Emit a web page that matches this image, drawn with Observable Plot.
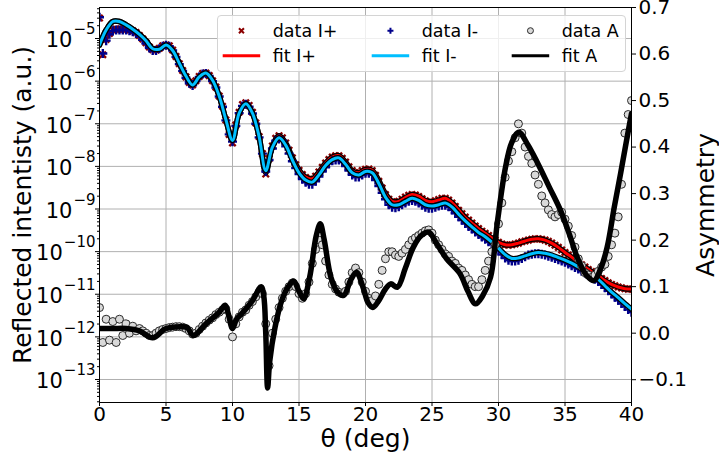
<!DOCTYPE html>
<html><head><meta charset="utf-8">
<script src="https://cdn.jsdelivr.net/npm/d3@7"></script>
<script src="https://cdn.jsdelivr.net/npm/@observablehq/plot@0.6"></script>
<style>
body{margin:0;background:#fff;}
#wrap{position:relative;width:719px;height:461px;font-family:"DejaVu Sans",sans-serif;}
#wrap > svg{position:absolute;left:0;top:0;}
#legend{position:absolute;left:217px;top:15px;width:409px;height:57px;background:rgba(255,255,255,0.8);border:1px solid #d4d4d4;border-radius:4px;box-sizing:border-box;}
#legend svg{position:absolute;left:-1px;top:-1px;}
</style></head><body><div id="wrap"></div>
<script>
// ---------- data ----------
// sample grid of the measured points (deg), step 0.25
const thetaData = d3.range(161).map(i => i / 4);
// sample grid of the fits (deg), step 0.5
const thetaFit = d3.range(81).map(i => i / 2);

// measured I+ (log10 of reflected intensity)
const dataIplusLog = [
 -4.52,-5.38,-5.02,-4.88, -4.80,-4.78,-4.78,-4.78, -4.78,-4.80,-4.82,-4.86, -4.93,-5.01,-5.10,-5.20,
 -5.26,-5.27,-5.23,-5.17, -5.15,-5.17,-5.27,-5.42, -5.59,-5.75,-5.90,-6.03, -6.09,-5.99,-5.89,-5.82,
 -5.81,-5.87,-5.99,-6.14, -6.35,-6.59,-6.91,-7.25, -7.45,-7.03,-6.73,-6.55, -6.51,-6.57,-6.73,-6.98,
 -7.30,-7.70,-8.18,-7.82, -7.52,-7.34,-7.28,-7.33, -7.45,-7.62,-7.80,-7.96, -8.09,-8.19,-8.26,-8.30,
 -8.30,-8.23,-8.13,-8.02, -7.92,-7.84,-7.78,-7.75, -7.75,-7.81,-7.90,-8.01, -8.10,-8.15,-8.15,-8.10,
 -8.07,-8.06,-8.10,-8.21, -8.35,-8.51,-8.66,-8.77, -8.83,-8.84,-8.82,-8.77, -8.72,-8.68,-8.66,-8.67,
 -8.71,-8.76,-8.81,-8.84, -8.84,-8.81,-8.78,-8.75, -8.75,-8.79,-8.86,-8.94, -9.03,-9.11,-9.19,-9.26,
 -9.33,-9.40,-9.46,-9.52, -9.57,-9.62,-9.68,-9.73, -9.78,-9.82,-9.84,-9.85, -9.84,-9.82,-9.80,-9.77,
 -9.75,-9.73,-9.71,-9.70, -9.70,-9.71,-9.73,-9.76, -9.80,-9.85,-9.90,-9.96, -10.02,-10.08,-10.13,-10.19,
 -10.25,-10.31,-10.36,-10.42, -10.47,-10.52,-10.57,-10.63, -10.68,-10.73,-10.77,-10.80, -10.83,-10.85,-10.87,-10.88,
 -10.88];

// measured I- (log10)
const dataIminusLog = [
 -4.50,-5.35,-5.05,-4.90, -4.82,-4.80,-4.80,-4.80, -4.80,-4.82,-4.84,-4.88, -4.95,-5.03,-5.12,-5.22,
 -5.28,-5.28,-5.24,-5.18, -5.16,-5.18,-5.28,-5.43, -5.60,-5.76,-5.92,-6.05, -6.10,-6.00,-5.90,-5.83,
 -5.82,-5.88,-6.00,-6.15, -6.36,-6.60,-6.92,-7.25, -7.42,-7.05,-6.75,-6.58, -6.54,-6.60,-6.76,-7.00,
 -7.32,-7.70,-8.12,-7.85, -7.58,-7.40,-7.36,-7.40, -7.53,-7.70,-7.88,-8.04, -8.18,-8.30,-8.37,-8.42,
 -8.42,-8.35,-8.24,-8.12, -8.02,-7.93,-7.87,-7.85, -7.85,-7.90,-7.99,-8.10, -8.20,-8.25,-8.25,-8.20,
 -8.16,-8.16,-8.20,-8.32, -8.46,-8.62,-8.77,-8.90, -8.96,-8.97,-8.95,-8.90, -8.86,-8.82,-8.80,-8.82,
 -8.86,-8.91,-8.96,-8.98, -8.98,-8.96,-8.93,-8.91, -8.91,-8.95,-9.02,-9.10, -9.18,-9.26,-9.34,-9.41,
 -9.47,-9.54,-9.60,-9.66, -9.71,-9.77,-9.83,-9.89, -9.97,-10.07,-10.15,-10.20, -10.22,-10.22,-10.20,-10.16,
 -10.12,-10.08,-10.06,-10.05, -10.05,-10.06,-10.08,-10.11, -10.13,-10.16,-10.19,-10.22, -10.25,-10.29,-10.33,-10.37,
 -10.41,-10.46,-10.50,-10.55, -10.60,-10.65,-10.70,-10.77, -10.85,-10.92,-10.99,-11.07, -11.14,-11.22,-11.29,-11.36,
 -11.42];

// measured asymmetry
const dataA = [
 0.055,-0.02,0.03,-0.015, 0.025,-0.02,0.03,-0.005, 0.02,0.0,0.015,0.005, 0.01,0.005,0.0,-0.005,
 -0.005,0.0,0.005,0.008, 0.01,0.012,0.013,0.014, 0.014,0.013,0.01,0.005, -0.002,0.0,0.008,0.015,
 0.022,0.028,0.033,0.04, 0.045,0.05,0.052,0.03, -0.008,0.02,0.035,0.045, 0.05,0.06,0.068,0.078,
 0.088,0.085,0.02,-0.07, 0.0,0.03,0.055,0.075, 0.09,0.10,0.108,0.10, 0.085,0.075,0.085,0.11,
 0.15,0.18,0.20,0.19, 0.155,0.125,0.105,0.095, 0.088,0.085,0.09,0.11, 0.13,0.14,0.13,0.11,
 0.09,0.075,0.07,0.08, 0.105,0.135,0.16,0.175, 0.175,0.168,0.165,0.172, 0.18,0.19,0.20,0.205,
 0.21,0.215,0.22,0.222, 0.215,0.20,0.19,0.18, 0.17,0.165,0.155,0.15, 0.14,0.135,0.125,0.115,
 0.105,0.10,0.10,0.115, 0.135,0.155,0.175,0.19, 0.235,0.28,0.335,0.37, 0.39,0.42,0.45,0.43,
 0.40,0.38,0.365,0.34, 0.32,0.295,0.28,0.265, 0.255,0.25,0.255,0.26, 0.245,0.23,0.21,0.185,
 0.16,0.145,0.13,0.125, 0.12,0.125,0.133,0.142, 0.148,0.165,0.19,0.215, 0.25,0.32,0.43,0.47,
 0.50];

// fit I+ (log10), step 0.5
const fitIplusLog = [
 -5.15,-4.80, -4.60,-4.60, -4.68,-4.78, -4.90,-5.05, -5.24,-5.25, -5.15,-5.28, -5.58,-5.88, -6.09,-5.90,
 -5.81,-5.98, -6.35,-6.90, -7.39,-6.75, -6.53,-6.75, -7.30,-8.15, -7.52,-7.28, -7.45,-7.79, -8.08,-8.25,
 -8.29,-8.13, -7.92,-7.78, -7.75,-7.90, -8.10,-8.15, -8.07,-8.09, -8.33,-8.64, -8.82,-8.82, -8.73,-8.66,
 -8.70,-8.80, -8.83,-8.79, -8.75,-8.85, -9.02,-9.20, -9.33,-9.46, -9.57,-9.68, -9.78,-9.84, -9.84,-9.80,
 -9.75,-9.71, -9.70,-9.73, -9.80,-9.90, -10.02,-10.13, -10.25,-10.36, -10.47,-10.56, -10.68,-10.77, -10.83,-10.87,
 -10.88];

// fit I- (log10), step 0.5
const fitIminusLog = [
 -5.15,-4.80, -4.60,-4.60, -4.68,-4.78, -4.90,-5.05, -5.24,-5.25, -5.15,-5.28, -5.58,-5.88, -6.09,-5.90,
 -5.81,-5.98, -6.35,-6.90, -7.39,-6.75, -6.53,-6.75, -7.30,-8.10, -7.55,-7.33, -7.50,-7.85, -8.15,-8.32,
 -8.37,-8.20, -7.98,-7.84, -7.80,-7.95, -8.15,-8.20, -8.12,-8.15, -8.40,-8.72, -8.90,-8.90, -8.82,-8.75,
 -8.80,-8.90, -8.93,-8.90, -8.86,-8.95, -9.12,-9.28, -9.42,-9.55, -9.65,-9.78, -9.92,-10.07, -10.16,-10.15,
 -10.10,-10.05, -10.02,-10.04, -10.08,-10.14, -10.20,-10.27, -10.36,-10.45, -10.55,-10.65, -10.80,-10.95, -11.08,-11.22,
 -11.35];

// fit A (key points)
const fitAtheta = [0,1,2,3,4,5,6.2,6.6,7.05,8,9,9.45,9.7,10,10.3,10.7,11.5,12.15,12.35,12.5,12.64,12.8,13.2,13.7,14.2,14.6,15,15.35,15.8,16.3,16.6,16.9,17.4,17.9,18.36,18.9,19.32,19.8,20.2,20.55,21,21.5,21.9,22.4,23,23.6,24.2,24.76,25.3,26.1,27.1,27.7,28.27,28.8,29.4,29.9,30.53,31,31.53,32.2,32.9,33.8,34.66,35.3,35.92,36.6,37.17,37.7,38.17,38.7,39.18,39.6,40];
const fitA = [0.01,0.01,0.01,0.005,-0.01,0.01,0.014,0.012,-0.005,0.02,0.045,0.06,0.04,0.01,0.03,0.042,0.07,0.10,0.08,0.0,-0.118,-0.06,0.013,0.07,0.10,0.112,0.09,0.074,0.12,0.21,0.235,0.20,0.12,0.088,0.081,0.115,0.131,0.10,0.065,0.055,0.07,0.095,0.106,0.099,0.14,0.185,0.21,0.217,0.195,0.16,0.128,0.09,0.063,0.08,0.12,0.235,0.357,0.41,0.432,0.405,0.368,0.315,0.264,0.215,0.163,0.125,0.113,0.14,0.185,0.27,0.343,0.41,0.472];

// axes
const xTicks = [0,5,10,15,20,25,30,35,40];
const leftDecades = [-13,-12,-11,-10,-9,-8,-7,-6,-5];
const rightTicks = [-0.1,0.0,0.1,0.2,0.3,0.4,0.5,0.6,0.7];
const xLabel = "θ (deg)";
const leftLabel = "Reflected intentisty (a.u.)";
const rightLabel = "Asymmetry";
const legendLabels = ["data I+","data I-","data A","fit I+","fit I-","fit A"];

// ---------- build ----------
const W = 719, H = 461;
const M = {marginTop: 7, marginRight: 88, marginBottom: 59, marginLeft: 99};
const pow = v => Math.pow(10, v);
const zip = (xs, ys, f = v => v) => xs.map((x, i) => ({x, y: f(ys[i])})).filter(d => d.y !== undefined && !Number.isNaN(d.y));

const sIplus = zip(thetaData, dataIplusLog, pow);
const sIminus = zip(thetaData, dataIminusLog, pow);
const sA = zip(thetaData, dataA);
const fIplus = zip(thetaFit, fitIplusLog, pow);
const fIminus = zip(thetaFit, fitIminusLog, pow);
const fA = zip(fitAtheta, fitA);

const decVals = leftDecades.map(pow);
const minorVals = [];
for (let k = -14; k <= -5; k++) for (let m = 2; m <= 9; m++) {
  const v = m * Math.pow(10, k);
  if (v > pow(-13.54) && v < pow(-4.272)) minorVals.push(v);
}
// tick labels 10^k drawn as "10" + raised exponent
const expSize = 15, baseSize = 21;
const expEnd = -4;
const oneDigit = leftDecades.filter(e => e > -10);
const twoDigit = leftDecades.filter(e => e <= -10);
const expW1 = expSize * (0.838 + 0.636) + 1;
const expW2 = expSize * (0.838 + 1.272) + 1;

const font = "DejaVu Sans";
const wrap = document.getElementById("wrap");

const main = Plot.plot({
  width: W, height: H, ...M,
  x: {domain: [0, 40]},
  y: {type: "log", domain: [pow(-13.54), pow(-4.272)]},
  style: {fontFamily: font, background: "white", color: "black", overflow: "visible"},
  marks: [
    Plot.gridX(xTicks, {stroke: "#b0b0b0", strokeOpacity: 1, strokeWidth: 1}),
    Plot.gridY(decVals, {stroke: "#b0b0b0", strokeOpacity: 1, strokeWidth: 1}),
    Plot.dot(sIplus, {x: "x", y: "y", symbol: "times", r: 3, stroke: "#8b0000", strokeWidth: 2.4, clip: true}),
    Plot.line(fIplus, {x: "x", y: "y", stroke: "black", strokeWidth: 5.5, curve: "catmull-rom", clip: true}),
    Plot.line(fIplus, {x: "x", y: "y", stroke: "#ff0000", strokeWidth: 3, curve: "catmull-rom", clip: true}),
    Plot.dot(sIminus, {x: "x", y: "y", symbol: "plus", r: 3, stroke: "#00008b", strokeWidth: 2.4, clip: true}),
    Plot.line(fIminus, {x: "x", y: "y", stroke: "black", strokeWidth: 5.5, curve: "catmull-rom", clip: true}),
    Plot.line(fIminus, {x: "x", y: "y", stroke: "#00bfff", strokeWidth: 3, curve: "catmull-rom", clip: true}),
    Plot.axisX(xTicks, {tickSize: 4, tickPadding: 0, fontSize: 20, label: null}),
    Plot.axisY(decVals, {tickSize: 4, tickFormat: () => "", label: null}),
    Plot.axisY(minorVals, {tickSize: 2, tickFormat: () => "", label: null}),
    Plot.text(leftDecades, {y: e => pow(e), text: e => "−" + (-e), frameAnchor: "left", textAnchor: "end", dx: expEnd, dy: -9, fontSize: expSize}),
    Plot.text(oneDigit, {y: e => pow(e), text: () => "10", frameAnchor: "left", textAnchor: "end", dx: expEnd - expW1, dy: 2, fontSize: baseSize}),
    Plot.text(twoDigit, {y: e => pow(e), text: () => "10", frameAnchor: "left", textAnchor: "end", dx: expEnd - expW2, dy: 2, fontSize: baseSize}),
    Plot.text([xLabel], {frameAnchor: "bottom", lineAnchor: "middle", textAnchor: "middle", dy: 36, fontSize: 25, text: d => d}),
    Plot.text([leftLabel], {frameAnchor: "left", textAnchor: "middle", lineAnchor: "middle", rotate: -90, dx: -77, fontSize: 25, text: d => d})
  ]
});

const asym = Plot.plot({
  width: W, height: H, ...M,
  x: {domain: [0, 40], axis: null},
  y: {domain: [-0.149, 0.7], axis: null},
  style: {fontFamily: font, background: "transparent", color: "black", overflow: "visible"},
  marks: [
    Plot.dot(sA, {x: "x", y: "y", r: 4, fill: "#d9d9d9", stroke: "#2b2b2b", strokeWidth: 1, clip: true}),
    Plot.line(fA, {x: "x", y: "y", stroke: "black", strokeWidth: 5.5, curve: "catmull-rom", clip: true}),
    Plot.axisY(rightTicks, {anchor: "right", tickSize: 4, tickPadding: 3, fontSize: 20, label: null,
      tickFormat: d => d.toFixed(1).replace("-", "−")}),
    Plot.text([rightLabel], {frameAnchor: "right", textAnchor: "middle", lineAnchor: "middle", rotate: -90, dx: 74, fontSize: 25, text: d => d}),
    Plot.frame({stroke: "black", strokeWidth: 1})
  ]
});

wrap.appendChild(main);
wrap.appendChild(asym);

// legend
const leg = document.createElement("div");
leg.id = "legend";
wrap.appendChild(leg);
const ls = d3.select(leg).append("svg").attr("width", 409).attr("height", 57)
  .style("font-family", font).style("font-size", "17.5px");
const colX = [5.7, 154.7, 294.7];
const rowY = [15.7, 40.7];
const lineLen = 37.5;
legendLabels.forEach((lab, i) => {
  const col = i % 3, row = Math.floor(i / 3);
  const x0 = colX[col], y0 = rowY[row], cx = x0 + lineLen / 2;
  if (row === 0) {
    if (col === 0) {
      ls.append("path").attr("d", `M${cx-2.5},${y0-2.5}L${cx+2.5},${y0+2.5}M${cx-2.5},${y0+2.5}L${cx+2.5},${y0-2.5}`)
        .attr("stroke", "#8b0000").attr("stroke-width", 2);
    } else if (col === 1) {
      ls.append("path").attr("d", `M${cx-3},${y0}L${cx+3},${y0}M${cx},${y0-3}L${cx},${y0+3}`)
        .attr("stroke", "#00008b").attr("stroke-width", 2);
    } else {
      ls.append("circle").attr("cx", cx).attr("cy", y0).attr("r", 3)
        .attr("fill", "#d9d9d9").attr("stroke", "#2b2b2b").attr("stroke-width", 1);
    }
  } else {
    const c = ["#ff0000", "#00bfff", "black"][col];
    ls.append("line").attr("x1", x0).attr("x2", x0 + lineLen).attr("y1", y0).attr("y2", y0)
      .attr("stroke", c).attr("stroke-width", 3);
  }
  ls.append("text").attr("x", x0 + 50).attr("y", y0).attr("dy", "0.35em").attr("fill", "black").text(lab);
});
</script></body></html>
